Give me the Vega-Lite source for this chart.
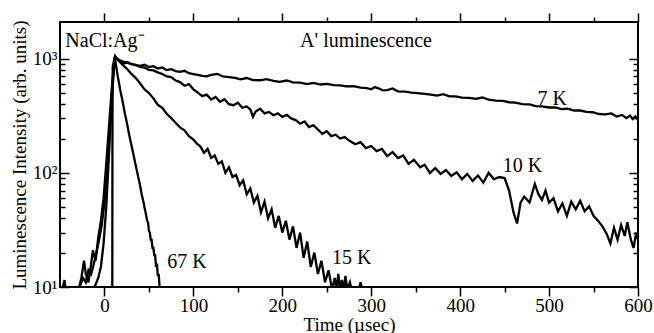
{
 "$schema": "https://vega.github.io/schema/vega-lite/v6.json",
 "width": 578, "height": 265,
 "autosize": {"type": "none"},
 "padding": {"left": 60, "top": 22, "right": 16, "bottom": 46},
 "background": "white",
 "config": {
  "font": "'Liberation Serif', 'Times New Roman', Times, serif",
  "view": {"stroke": "black", "strokeWidth": 2},
  "axis": {"labelFont": "'Liberation Serif', 'Times New Roman', Times, serif", "titleFont": "'Liberation Serif', 'Times New Roman', Times, serif", "labelColor": "black", "titleColor": "black", "tickColor": "black", "grid": false, "titleFontWeight": "normal", "labelFontSize": 19, "titleFontSize": 19, "tickWidth": 1.5}
 },
 "datasets": {
  "curves": [
   {"s":"7K","t":-48,"v":9},{"s":"7K","t":-45,"v":11.5},{"s":"7K","t":-43,"v":9},{"s":"7K","t":-38,"v":9},{"s":"7K","t":-33,"v":10},{"s":"7K","t":-29,"v":9.5},{"s":"7K","t":-26,"v":12},{"s":"7K","t":-23,"v":17},{"s":"7K","t":-21,"v":13},{"s":"7K","t":-18,"v":11},{"s":"7K","t":-15,"v":16},{"s":"7K","t":-13,"v":21},{"s":"7K","t":-10,"v":17},{"s":"7K","t":-7,"v":27},{"s":"7K","t":-4,"v":38},{"s":"7K","t":-1,"v":60},{"s":"7K","t":2,"v":120},{"s":"7K","t":5,"v":250},{"s":"7K","t":8,"v":520},{"s":"7K","t":10,"v":800},
   {"s":"7K","t":12,"v":1050},{"s":"7K","t":15,"v":980},{"s":"7K","t":18,"v":940},{"s":"7K","t":22,"v":910},{"s":"7K","t":26,"v":935},{"s":"7K","t":30,"v":895},{"s":"7K","t":35,"v":880},{"s":"7K","t":40,"v":865},{"s":"7K","t":45,"v":885},{"s":"7K","t":50,"v":845},{"s":"7K","t":55,"v":860},{"s":"7K","t":60,"v":820},{"s":"7K","t":65,"v":840},{"s":"7K","t":70,"v":795},{"s":"7K","t":75,"v":812},{"s":"7K","t":80,"v":780},{"s":"7K","t":85,"v":768},{"s":"7K","t":90,"v":785},{"s":"7K","t":95,"v":748},{"s":"7K","t":100,"v":735},{"s":"7K","t":105,"v":722},{"s":"7K","t":110,"v":708},{"s":"7K","t":115,"v":700},{"s":"7K","t":120,"v":722},{"s":"7K","t":127,"v":738},{"s":"7K","t":133,"v":700},{"s":"7K","t":140,"v":690},{"s":"7K","t":147,"v":680},{"s":"7K","t":153,"v":660},{"s":"7K","t":160,"v":678},{"s":"7K","t":167,"v":650},{"s":"7K","t":175,"v":648},{"s":"7K","t":182,"v":664},{"s":"7K","t":190,"v":640},{"s":"7K","t":197,"v":628},{"s":"7K","t":205,"v":645},{"s":"7K","t":212,"v":622},{"s":"7K","t":220,"v":618},{"s":"7K","t":228,"v":600},{"s":"7K","t":235,"v":615},{"s":"7K","t":243,"v":595},{"s":"7K","t":250,"v":602},{"s":"7K","t":258,"v":588},{"s":"7K","t":265,"v":585},{"s":"7K","t":272,"v":572},{"s":"7K","t":280,"v":575},{"s":"7K","t":288,"v":558},{"s":"7K","t":295,"v":553},{"s":"7K","t":300,"v":540},{"s":"7K","t":304,"v":565},{"s":"7K","t":309,"v":548},{"s":"7K","t":313,"v":528},{"s":"7K","t":318,"v":532},{"s":"7K","t":324,"v":550},{"s":"7K","t":330,"v":518},{"s":"7K","t":338,"v":515},{"s":"7K","t":345,"v":505},{"s":"7K","t":352,"v":500},{"s":"7K","t":360,"v":492},{"s":"7K","t":367,"v":485},{"s":"7K","t":374,"v":476},{"s":"7K","t":381,"v":490},{"s":"7K","t":388,"v":468},{"s":"7K","t":395,"v":468},{"s":"7K","t":402,"v":456},{"s":"7K","t":410,"v":455},{"s":"7K","t":418,"v":445},{"s":"7K","t":425,"v":458},{"s":"7K","t":432,"v":438},{"s":"7K","t":440,"v":430},{"s":"7K","t":448,"v":428},{"s":"7K","t":455,"v":416},{"s":"7K","t":462,"v":412},{"s":"7K","t":470,"v":400},{"s":"7K","t":478,"v":398},{"s":"7K","t":485,"v":385},{"s":"7K","t":492,"v":382},{"s":"7K","t":500,"v":374},{"s":"7K","t":507,"v":375},{"s":"7K","t":514,"v":362},{"s":"7K","t":521,"v":366},{"s":"7K","t":528,"v":352},{"s":"7K","t":535,"v":352},{"s":"7K","t":542,"v":342},{"s":"7K","t":549,"v":340},{"s":"7K","t":556,"v":328},{"s":"7K","t":563,"v":326},{"s":"7K","t":570,"v":332},{"s":"7K","t":576,"v":312},{"s":"7K","t":582,"v":322},{"s":"7K","t":587,"v":302},{"s":"7K","t":591,"v":318},{"s":"7K","t":594,"v":296},{"s":"7K","t":597,"v":312},{"s":"7K","t":600,"v":292},
   {"s":"10K","t":-30,"v":9},{"s":"10K","t":-27,"v":10.5},{"s":"10K","t":-24,"v":12},{"s":"10K","t":-21,"v":11},{"s":"10K","t":-18,"v":14},{"s":"10K","t":-15,"v":13},{"s":"10K","t":-12,"v":16},{"s":"10K","t":-9,"v":20},{"s":"10K","t":-6,"v":26},{"s":"10K","t":-3,"v":35},{"s":"10K","t":0,"v":55},{"s":"10K","t":3,"v":110},{"s":"10K","t":6,"v":260},{"s":"10K","t":9,"v":600},
   {"s":"10K","t":12,"v":1040},{"s":"10K","t":16,"v":980},{"s":"10K","t":20,"v":950},{"s":"10K","t":25,"v":925},{"s":"10K","t":30,"v":900},{"s":"10K","t":35,"v":885},{"s":"10K","t":40,"v":850},{"s":"10K","t":45,"v":835},{"s":"10K","t":50,"v":800},{"s":"10K","t":55,"v":790},{"s":"10K","t":60,"v":760},{"s":"10K","t":65,"v":735},{"s":"10K","t":70,"v":700},{"s":"10K","t":75,"v":690},{"s":"10K","t":80,"v":645},{"s":"10K","t":85,"v":625},{"s":"10K","t":90,"v":580},{"s":"10K","t":95,"v":600},{"s":"10K","t":100,"v":540},{"s":"10K","t":105,"v":505},{"s":"10K","t":110,"v":470},{"s":"10K","t":115,"v":485},{"s":"10K","t":120,"v":440},{"s":"10K","t":125,"v":462},{"s":"10K","t":130,"v":420},{"s":"10K","t":135,"v":442},{"s":"10K","t":140,"v":400},{"s":"10K","t":145,"v":392},{"s":"10K","t":150,"v":412},{"s":"10K","t":155,"v":372},{"s":"10K","t":160,"v":382},{"s":"10K","t":164,"v":360},{"s":"10K","t":167,"v":310},{"s":"10K","t":170,"v":345},{"s":"10K","t":175,"v":365},{"s":"10K","t":180,"v":332},{"s":"10K","t":185,"v":342},{"s":"10K","t":190,"v":320},{"s":"10K","t":195,"v":332},{"s":"10K","t":200,"v":310},{"s":"10K","t":205,"v":322},{"s":"10K","t":210,"v":300},{"s":"10K","t":215,"v":290},{"s":"10K","t":220,"v":270},{"s":"10K","t":225,"v":282},{"s":"10K","t":230,"v":252},{"s":"10K","t":235,"v":262},{"s":"10K","t":240,"v":240},{"s":"10K","t":245,"v":220},{"s":"10K","t":250,"v":232},{"s":"10K","t":255,"v":210},{"s":"10K","t":260,"v":216},{"s":"10K","t":265,"v":200},{"s":"10K","t":270,"v":206},{"s":"10K","t":276,"v":190},{"s":"10K","t":282,"v":178},{"s":"10K","t":288,"v":186},{"s":"10K","t":294,"v":165},{"s":"10K","t":300,"v":172},{"s":"10K","t":306,"v":155},{"s":"10K","t":312,"v":162},{"s":"10K","t":318,"v":140},{"s":"10K","t":324,"v":152},{"s":"10K","t":330,"v":135},{"s":"10K","t":336,"v":142},{"s":"10K","t":342,"v":120},{"s":"10K","t":348,"v":130},{"s":"10K","t":355,"v":112},{"s":"10K","t":360,"v":118},{"s":"10K","t":366,"v":100},{"s":"10K","t":372,"v":110},{"s":"10K","t":378,"v":98},{"s":"10K","t":384,"v":106},{"s":"10K","t":390,"v":94},{"s":"10K","t":396,"v":101},{"s":"10K","t":402,"v":88},{"s":"10K","t":408,"v":98},{"s":"10K","t":414,"v":85},{"s":"10K","t":420,"v":95},{"s":"10K","t":426,"v":82},{"s":"10K","t":432,"v":100},{"s":"10K","t":438,"v":88},{"s":"10K","t":444,"v":92},{"s":"10K","t":450,"v":90},{"s":"10K","t":455,"v":70},{"s":"10K","t":460,"v":45},{"s":"10K","t":464,"v":36},{"s":"10K","t":468,"v":55},{"s":"10K","t":472,"v":62},{"s":"10K","t":478,"v":55},{"s":"10K","t":484,"v":80},{"s":"10K","t":488,"v":65},{"s":"10K","t":492,"v":58},{"s":"10K","t":496,"v":70},{"s":"10K","t":500,"v":55},{"s":"10K","t":505,"v":60},{"s":"10K","t":510,"v":46},{"s":"10K","t":515,"v":54},{"s":"10K","t":520,"v":42},{"s":"10K","t":525,"v":56},{"s":"10K","t":530,"v":48},{"s":"10K","t":535,"v":57},{"s":"10K","t":540,"v":46},{"s":"10K","t":545,"v":51},{"s":"10K","t":550,"v":42},{"s":"10K","t":555,"v":38},{"s":"10K","t":560,"v":34},{"s":"10K","t":565,"v":29},{"s":"10K","t":569,"v":24},{"s":"10K","t":573,"v":33},{"s":"10K","t":577,"v":26},{"s":"10K","t":581,"v":35},{"s":"10K","t":585,"v":28},{"s":"10K","t":588,"v":37},{"s":"10K","t":592,"v":26},{"s":"10K","t":595,"v":22},{"s":"10K","t":598,"v":30},{"s":"10K","t":600,"v":26},
   {"s":"15K","t":-14,"v":9},{"s":"15K","t":-10,"v":10.5},{"s":"15K","t":-7,"v":12},{"s":"15K","t":-4,"v":15},{"s":"15K","t":-1,"v":24},{"s":"15K","t":2,"v":50},{"s":"15K","t":5,"v":140},{"s":"15K","t":8,"v":400},{"s":"15K","t":10,"v":700},
   {"s":"15K","t":12,"v":1050},{"s":"15K","t":16,"v":960},{"s":"15K","t":20,"v":890},{"s":"15K","t":25,"v":820},{"s":"15K","t":30,"v":740},{"s":"15K","t":35,"v":680},{"s":"15K","t":40,"v":610},{"s":"15K","t":45,"v":540},{"s":"15K","t":50,"v":500},{"s":"15K","t":55,"v":450},{"s":"15K","t":60,"v":395},{"s":"15K","t":65,"v":372},{"s":"15K","t":70,"v":330},{"s":"15K","t":75,"v":302},{"s":"15K","t":80,"v":275},{"s":"15K","t":85,"v":250},{"s":"15K","t":90,"v":236},{"s":"15K","t":95,"v":210},{"s":"15K","t":100,"v":196},{"s":"15K","t":104,"v":180},{"s":"15K","t":108,"v":170},{"s":"15K","t":112,"v":150},{"s":"15K","t":116,"v":162},{"s":"15K","t":120,"v":135},{"s":"15K","t":124,"v":142},{"s":"15K","t":128,"v":120},{"s":"15K","t":132,"v":126},{"s":"15K","t":136,"v":100},{"s":"15K","t":140,"v":112},{"s":"15K","t":144,"v":92},{"s":"15K","t":148,"v":96},{"s":"15K","t":152,"v":78},{"s":"15K","t":156,"v":86},{"s":"15K","t":160,"v":65},{"s":"15K","t":164,"v":73},{"s":"15K","t":168,"v":55},{"s":"15K","t":172,"v":63},{"s":"15K","t":176,"v":45},{"s":"15K","t":180,"v":56},{"s":"15K","t":184,"v":40},{"s":"15K","t":188,"v":48},{"s":"15K","t":192,"v":33},{"s":"15K","t":196,"v":42},{"s":"15K","t":200,"v":30},{"s":"15K","t":204,"v":38},{"s":"15K","t":208,"v":26},{"s":"15K","t":212,"v":34},{"s":"15K","t":216,"v":22},{"s":"15K","t":220,"v":30},{"s":"15K","t":224,"v":18},{"s":"15K","t":228,"v":25},{"s":"15K","t":232,"v":15},{"s":"15K","t":236,"v":20},{"s":"15K","t":240,"v":13},{"s":"15K","t":244,"v":17},{"s":"15K","t":248,"v":11},{"s":"15K","t":252,"v":14},{"s":"15K","t":256,"v":9.5},{"s":"15K","t":259,"v":12},{"s":"15K","t":261,"v":9.5},{"s":"15K","t":263,"v":13},{"s":"15K","t":265,"v":9.5},{"s":"15K","t":267,"v":11.5},{"s":"15K","t":269,"v":9.5},{"s":"15K","t":271,"v":12.5},{"s":"15K","t":273,"v":9.5},{"s":"15K","t":276,"v":11},{"s":"15K","t":278,"v":9.5},{"s":"15K","t":286,"v":9.5},{"s":"15K","t":288,"v":11},{"s":"15K","t":290,"v":9.5},
   {"s":"67K","t":8.8,"v":9},{"s":"67K","t":9,"v":300},{"s":"67K","t":9.3,"v":850},{"s":"67K","t":11.5,"v":1040},{"s":"67K","t":13,"v":880},{"s":"67K","t":15,"v":700},{"s":"67K","t":18,"v":520},{"s":"67K","t":20,"v":440},{"s":"67K","t":23,"v":330},{"s":"67K","t":25,"v":280},{"s":"67K","t":28,"v":212},{"s":"67K","t":30,"v":180},{"s":"67K","t":33,"v":140},{"s":"67K","t":35,"v":118},{"s":"67K","t":38,"v":92},{"s":"67K","t":40,"v":78},{"s":"67K","t":42,"v":64},{"s":"67K","t":44,"v":55},{"s":"67K","t":45,"v":50},{"s":"67K","t":46,"v":46},{"s":"67K","t":47,"v":42},{"s":"67K","t":48,"v":38},{"s":"67K","t":49,"v":37},{"s":"67K","t":50,"v":31},{"s":"67K","t":51,"v":30},{"s":"67K","t":52,"v":26},{"s":"67K","t":53,"v":26},{"s":"67K","t":54,"v":22},{"s":"67K","t":55,"v":22},{"s":"67K","t":56,"v":19},{"s":"67K","t":57,"v":19},{"s":"67K","t":58,"v":15},{"s":"67K","t":59,"v":16},{"s":"67K","t":60,"v":12.5},{"s":"67K","t":61,"v":13},{"s":"67K","t":62,"v":10},{"s":"67K","t":63,"v":9}
  ],
  "notes": [
   {"label":"NaCl:Ag⁻","t":-44,"v":1268},
   {"label":"A' luminescence","t":220,"v":1268},
   {"label":"7 K","t":487,"v":393},
   {"label":"10 K","t":448,"v":101},
   {"label":"15 K","t":256,"v":16},
   {"label":"67 K","t":70.5,"v":14.6}
  ]
 },
 "layer": [
  {
   "data": {"name": "curves"},
   "mark": {"type": "line", "clip": true, "color": "black", "strokeWidth": 2.3},
   "encoding": {
    "x": {"field": "t", "type": "quantitative", "scale": {"domain": [-50, 600], "nice": false, "zero": false},
     "axis": {"orient": "bottom", "values": [0,50,100,150,200,250,300,350,400,450,500,550,600], "domain": false,
      "tickSize": {"condition": {"test": "datum.value % 100 === 0", "value": 9}, "value": 5},
      "labelExpr": "datum.value % 100 === 0 ? datum.label : ''", "labelPadding": 0, "labelOverlap": false, "labelFlush": false,
      "title": "Time (µsec)", "titlePadding": 0}},
    "y": {"field": "v", "type": "quantitative", "scale": {"type": "log", "domain": [10, 2100], "nice": false},
     "axis": {"orient": "left", "values": [10,20,30,40,50,60,70,80,90,100,200,300,400,500,600,700,800,900,1000], "domain": false,
      "tickSize": {"condition": {"test": "datum.value === 10 || datum.value === 100 || datum.value === 1000", "value": -9}, "value": -5},
      "labelExpr": "datum.value === 10 ? '10¹' : datum.value === 100 ? '10²' : datum.value === 1000 ? '10³' : ''",
      "labelPadding": 12, "labelOverlap": false, "labelFlush": false,
      "title": "Luminescence Intensity (arb. units)", "titlePadding": 3}},
    "detail": {"field": "s"}
   }
  },
  {
   "data": {"name": "notes"},
   "mark": {"type": "text", "align": "left", "baseline": "alphabetic", "font": "'Liberation Serif', 'Times New Roman', Times, serif", "fontSize": 20, "color": "black"},
   "encoding": {
    "x": {"field": "t", "type": "quantitative", "scale": {"domain": [-50, 600], "nice": false, "zero": false},
     "axis": {"orient": "top", "values": [0,50,100,150,200,250,300,350,400,450,500,550,600], "domain": false, "labels": false, "title": null,
      "tickSize": {"condition": {"test": "datum.value % 100 === 0", "value": 9}, "value": 5}}},
    "y": {"field": "v", "type": "quantitative", "scale": {"type": "log", "domain": [10, 2100], "nice": false},
     "axis": {"orient": "right", "values": [10,20,30,40,50,60,70,80,90,100,200,300,400,500,600,700,800,900,1000], "domain": false, "labels": false, "title": null,
      "tickSize": {"condition": {"test": "datum.value === 10 || datum.value === 100 || datum.value === 1000", "value": -9}, "value": -5}}},
    "text": {"field": "label"}
   }
  }
 ],
 "resolve": {"axis": {"x": "independent", "y": "independent"}}
}
